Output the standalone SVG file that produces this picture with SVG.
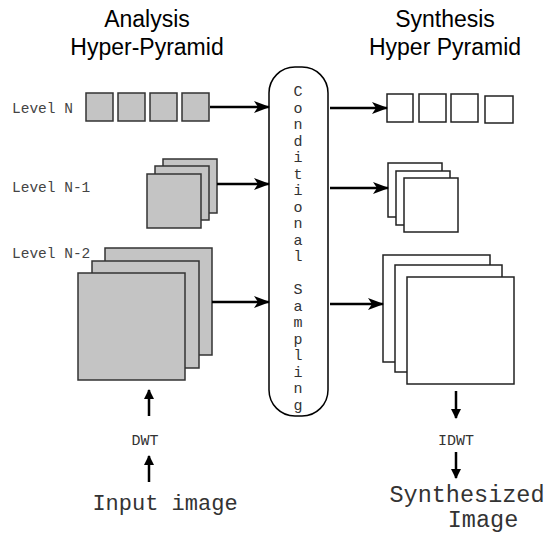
<svg xmlns="http://www.w3.org/2000/svg" width="554" height="533" viewBox="0 0 554 533">
<style>
.title{font-family:"Liberation Sans",Arial,sans-serif;font-size:23px;fill:#000;text-anchor:middle}
.lvl{font-family:"Liberation Mono","Courier New",monospace;font-size:14.5px;fill:#444}
.mono{font-family:"Liberation Mono","Courier New",monospace;fill:#333}
.g{fill:#c4c4c4;stroke:#333;stroke-width:1.5}
.w{fill:#fff;stroke:#222;stroke-width:1.5}
.arr{stroke:#000;stroke-width:2.5;fill:none;marker-end:url(#ah)}
.arr2{stroke:#000;stroke-width:2.5;fill:none;marker-end:url(#ah2)}
</style>
<defs>
<marker id="ah" viewBox="0 0 16 12" refX="15" refY="6" markerWidth="16" markerHeight="12" markerUnits="userSpaceOnUse" orient="auto">
<path d="M0,0 L16,6 L0,12 L4,6 Z" fill="#000"/>
</marker>
<marker id="ah2" viewBox="0 0 10 10" refX="9" refY="5" markerWidth="10" markerHeight="10" markerUnits="userSpaceOnUse" orient="auto">
<path d="M0,0 L10,5 L0,10 Z" fill="#000"/>
</marker>
</defs>

<g id="titles">
<text class="title" x="147" y="27">Analysis</text>
<text class="title" x="147" y="55">Hyper-Pyramid</text>
<text class="title" x="445" y="27">Synthesis</text>
<text class="title" x="445" y="55">Hyper Pyramid</text>
</g>

<g id="labels">
<text class="lvl" x="12" y="113">Level N</text>
<text class="lvl" x="12" y="192">Level N-1</text>
<text class="lvl" x="12" y="258">Level N-2</text>
</g>

<g id="analysis-N">
<rect class="g" x="86" y="93" width="27" height="28"/>
<rect class="g" x="118" y="93" width="27" height="28"/>
<rect class="g" x="150" y="93" width="27" height="28"/>
<rect class="g" x="182" y="93" width="27" height="28"/>
</g>
<g id="analysis-N1">
<rect class="g" x="163" y="159" width="54" height="54"/>
<rect class="g" x="155" y="166" width="54" height="54"/>
<rect class="g" x="147" y="174" width="54" height="54"/>
</g>
<g id="analysis-N2">
<rect class="g" x="105" y="248" width="107" height="107"/>
<rect class="g" x="92" y="261" width="107" height="107"/>
<rect class="g" x="78" y="273" width="107" height="107"/>
</g>

<g id="conditional-sampling">
<rect x="269" y="67" width="59" height="349" rx="26" ry="26" fill="#fff" stroke="#000" stroke-width="1.5"/>
<text class="mono" font-size="15" text-anchor="middle"><tspan x="298" y="96">C</tspan><tspan x="298" dy="16.5">o</tspan><tspan x="298" dy="16.5">n</tspan><tspan x="298" dy="16.5">d</tspan><tspan x="298" dy="16.5">i</tspan><tspan x="298" dy="16.5">t</tspan><tspan x="298" dy="16.5">i</tspan><tspan x="298" dy="16.5">o</tspan><tspan x="298" dy="16.5">n</tspan><tspan x="298" dy="16.5">a</tspan><tspan x="298" dy="16.5">l</tspan><tspan x="298" dy="33">S</tspan><tspan x="298" dy="16.5">a</tspan><tspan x="298" dy="16.5">m</tspan><tspan x="298" dy="16.5">p</tspan><tspan x="298" dy="16.5">l</tspan><tspan x="298" dy="16.5">i</tspan><tspan x="298" dy="16.5">n</tspan><tspan x="298" dy="16.5">g</tspan></text>
</g>

<g id="synthesis-N">
<rect class="w" x="387" y="94" width="26" height="28"/>
<rect class="w" x="419" y="94" width="27" height="28"/>
<rect class="w" x="451" y="94" width="27" height="28"/>
<rect class="w" x="485" y="96" width="28" height="27"/>
</g>
<g id="synthesis-N1">
<rect class="w" x="388" y="163" width="54" height="54"/>
<rect class="w" x="396" y="171" width="54" height="54"/>
<rect class="w" x="404" y="178" width="54" height="54"/>
</g>
<g id="synthesis-N2">
<rect class="w" x="383" y="255" width="107" height="107"/>
<rect class="w" x="395" y="265" width="107" height="107"/>
<rect class="w" x="407" y="277" width="107" height="107"/>
</g>

<g id="bottom-text">
<text class="mono" font-size="15" x="145" y="445" text-anchor="middle">DWT</text>
<text class="mono" font-size="22" x="165" y="510" text-anchor="middle">Input image</text>
<text class="mono" font-size="15" x="456" y="445" text-anchor="middle">IDWT</text>
<text class="mono" font-size="23.5" x="467" y="502" text-anchor="middle">Synthesized</text>
<text class="mono" font-size="23.5" x="483" y="527" text-anchor="middle">Image</text>
</g>

<g id="connectors">
<line class="arr" x1="210" y1="107" x2="269" y2="107"/>
<line class="arr" x1="217" y1="184" x2="269" y2="184"/>
<line class="arr" x1="212" y1="302" x2="269" y2="302"/>
<line class="arr" x1="330" y1="108" x2="387" y2="108"/>
<line class="arr" x1="330" y1="188" x2="388" y2="188"/>
<line class="arr" x1="330" y1="304" x2="383" y2="304"/>
<line class="arr2" x1="149" y1="416" x2="149" y2="390"/>
<line class="arr2" x1="149" y1="482" x2="149" y2="456"/>
<line class="arr2" x1="456" y1="391" x2="456" y2="418"/>
<line class="arr2" x1="456" y1="452" x2="456" y2="478"/>
</g>
</svg>
